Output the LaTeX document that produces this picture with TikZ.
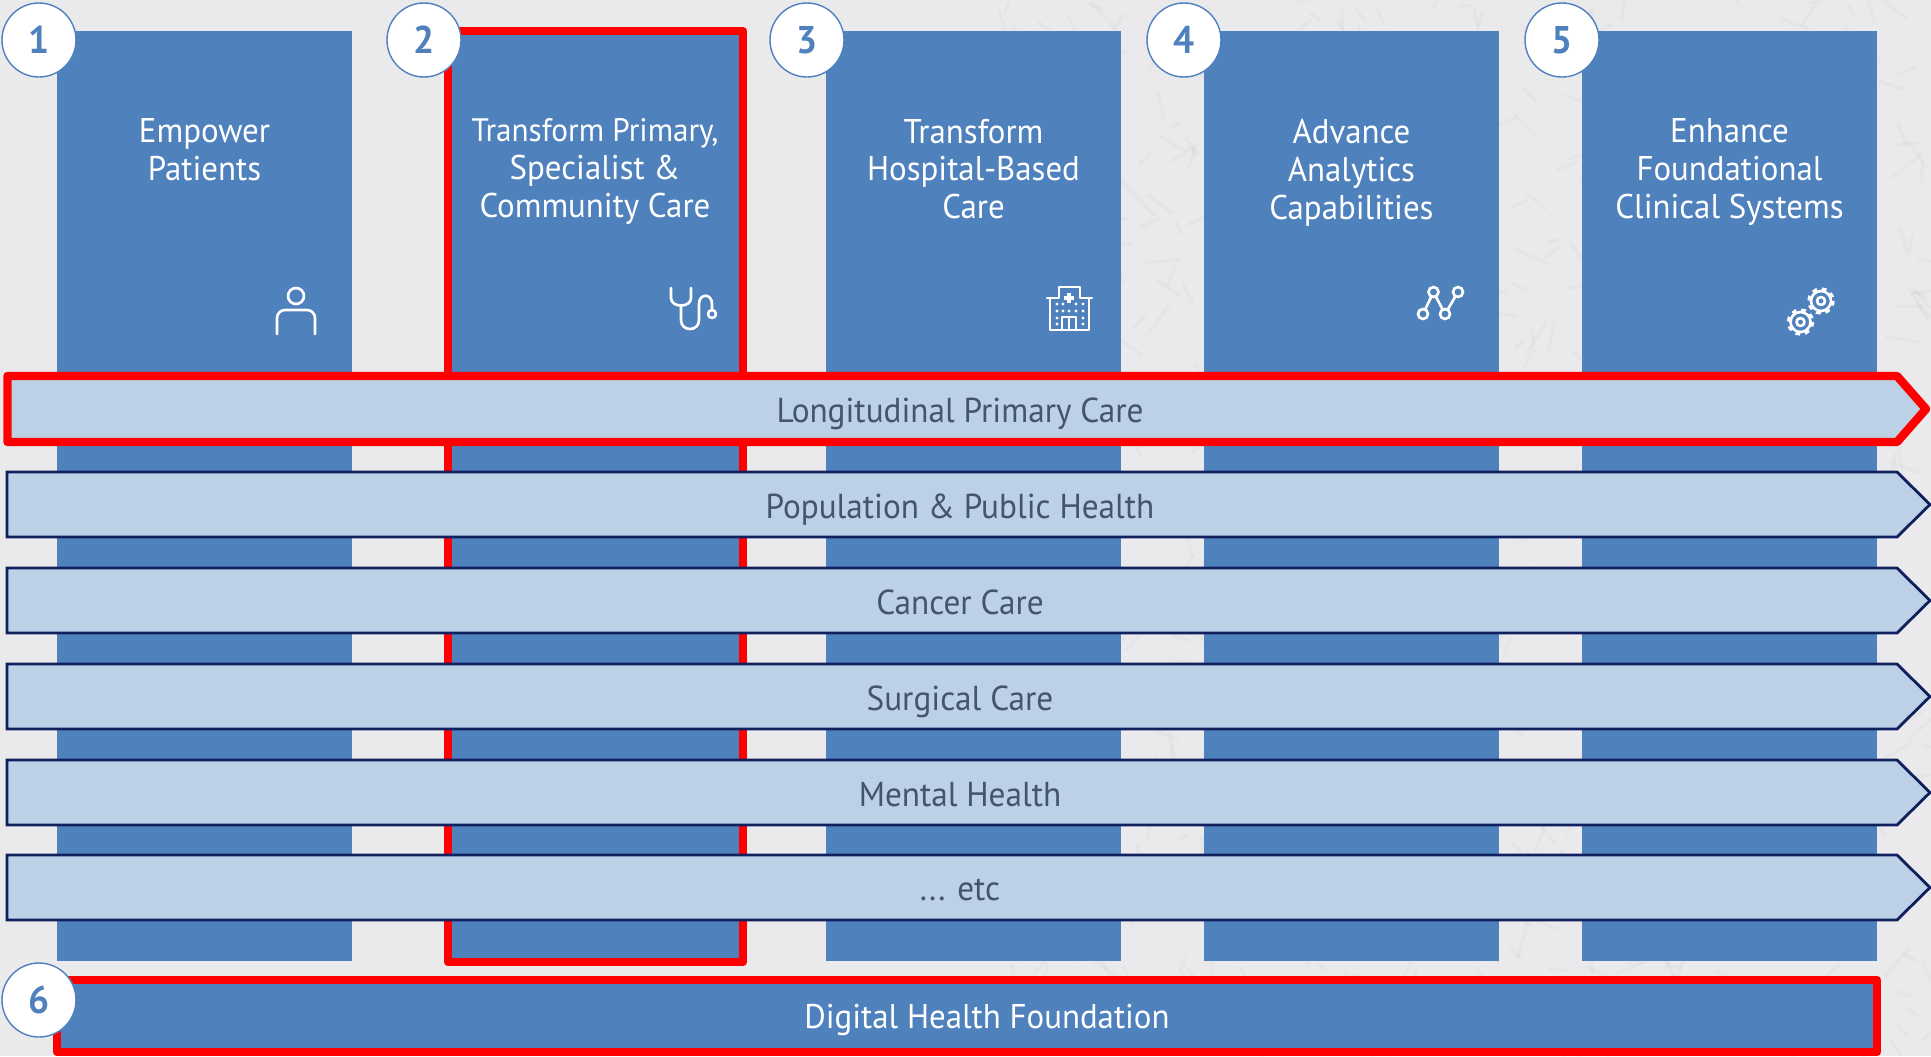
\documentclass[tikz,border=0pt]{standalone}
\usepackage{fontspec}
\setmainfont[FakeStretch=0.96]{PT Sans}
\definecolor{pagegrey}{HTML}{EAEAED}
\definecolor{colblue}{HTML}{4F81BD}
\definecolor{bandblue}{HTML}{BDD1E6}
\definecolor{bandline}{HTML}{10205F}
\definecolor{bandtext}{HTML}{44546A}
\tikzset{
    column/.style = {fill = colblue, inner sep = 0pt, minimum width = 295*0.02cm, minimum height = 930*0.02cm},
    coltitle/.style = {text = white, anchor = north, align = center, inner sep = 0pt, font = \fontsize{19.5}{21.6}\selectfont},
    band/.style = {fill = bandblue, draw = bandline, line width = 1.6pt, line join = miter},
    hotband/.style = {fill = bandblue, draw = red, line width = 4.8pt, line join = round},
    bandlabel/.style = {text = bandtext, inner sep = 0pt, anchor = base, font = \fontsize{19.7}{24}\selectfont},
    redframe/.style = {draw = red, line width = 4.8pt, line join = round},
    badge/.style = {circle, fill = white, draw = colblue, line width = 0.8pt, inner sep = 0pt, minimum size = 74*0.02cm, text = colblue, font = \fontsize{22}{24}\selectfont\bfseries},
    icon/.style = {draw = white, line width = 1.5pt, line cap = round, line join = round}
}
\begin{document}
\begin{tikzpicture}[x=0.02cm, y=-0.02cm]
    \useasboundingbox (0,0) rectangle (1931,1056);
    \fill[pagegrey] (0,0) rectangle (1931,1056);
    % faint marbling of the page
    \pgfmathsetseed{11}
    \foreach \i in {1,...,900} {
        \pgfmathsetmacro{\px}{1000+931*rnd}
        \pgfmathsetmacro{\py}{1056*rnd}
        \pgfmathsetmacro{\pa}{360*rnd}
        \pgfmathsetmacro{\pl}{8+30*rnd}
        \draw[black, opacity = 0.018, line width = 2pt, line cap = round] (\px,\py) -- ++(\pa:\pl);
    }

    \node[column] (col1) at (204.5,496) {};
    \node[column] (col2) at (596.5,496) {};
    \node[column] (col3) at (973.5,496) {};
    \node[column] (col4) at (1351.5,496) {};
    \node[column] (col5) at (1729.5,496) {};
    \draw[redframe] (448,31) rectangle (743,962);

    \node[coltitle] (title1) at (204.5,118.5) {Empower\\Patients};
    \node[coltitle] (title2) at (595,118.5) {\fontsize{18.5}{21.6}\selectfont Transform Primary,\\Specialist \&\\Community Care};
    \node[coltitle] (title3) at (973.5,118.5) {Transform\\Hospital-Based\\Care};
    \node[coltitle] (title4) at (1351.5,118.5) {Advance\\Analytics\\Capabilities};
    \node[coltitle] (title5) at (1729.5,118.5) {Enhance\\Foundational\\Clinical Systems};

    % person
    \draw[icon] (296,296) circle (8);
    \draw[icon] (277,334) -- (277,318) arc (180:270:8) -- (307,310) arc (270:360:8) -- (315,334);
    % stethoscope
    \draw[icon] (671,288) -- (671,298) .. controls (671,308) and (691,308) .. (691,298) -- (691,288);
    \draw[icon] (681,306) -- (681,320) .. controls (681,332) and (699,332) .. (699,320) -- (699,304) .. controls (699,293) and (712,293) .. (712,304) -- (712,310);
    \draw[icon] (712,314) circle (4);
    % hospital
    \draw[icon] (1050,298) -- (1050,330) -- (1089,330) -- (1089,298);
    \draw[icon] (1047,298) -- (1059,298) -- (1059,287) -- (1080,287) -- (1080,298) -- (1092,298);
    \draw[white, line width = 2.2pt] (1069,293) -- (1069,303) (1064,298) -- (1074,298);
    \draw[icon] (1062,330) -- (1062,317) -- (1076,317) -- (1076,330) (1069,317) -- (1069,330);
    \fill[white] (1057,304) circle (1.7) (1063,304) circle (1.7) (1076,304) circle (1.7) (1083,304) circle (1.7);
    \fill[white] (1057,311) circle (1.7) (1063,311) circle (1.7) (1069,311) circle (1.7) (1076,311) circle (1.7) (1083,311) circle (1.7);
    \fill[white] (1057,318) circle (1.7) (1083,318) circle (1.7) (1057,324) circle (1.7) (1083,324) circle (1.7);
    % graph
    \draw[icon] (1423,314) -- (1433.5,292) -- (1445,314) -- (1458,292);
    \fill[colblue, draw = white, line width = 1.5pt] (1423,314) circle (5);
    \fill[colblue, draw = white, line width = 1.5pt] (1433.5,292) circle (5);
    \fill[colblue, draw = white, line width = 1.5pt] (1445,314) circle (5);
    \fill[colblue, draw = white, line width = 1.5pt] (1458,292) circle (5);
    % gears
    \draw[icon] (1821,301) circle (10) (1821,301) circle (4);
    \draw[white, line width = 2pt, dash pattern = on 2.6pt off 2.8pt] (1821,301) circle (12);
    \draw[icon] (1800.5,322) circle (10) (1800.5,322) circle (4);
    \draw[white, line width = 2pt, dash pattern = on 2.6pt off 2.8pt] (1800.5,322) circle (12);

    \draw[hotband] (7.5,376) -- (1897,376) -- (1926,409) -- (1897,442) -- (7.5,442) -- cycle;
    \draw[band] (7,472) -- (1897,472) -- (1930,504.5) -- (1897,537) -- (7,537) -- cycle;
    \draw[band] (7,568) -- (1897,568) -- (1930,600.5) -- (1897,633) -- (7,633) -- cycle;
    \draw[band] (7,664) -- (1897,664) -- (1930,696.5) -- (1897,729) -- (7,729) -- cycle;
    \draw[band] (7,760) -- (1897,760) -- (1930,792.5) -- (1897,825) -- (7,825) -- cycle;
    \draw[band] (7,855) -- (1897,855) -- (1930,887.5) -- (1897,920) -- (7,920) -- cycle;
    \node[bandlabel] (longitudinal) at (960,422) {Longitudinal Primary Care};
    \node[bandlabel] (population) at (960,518) {Population \& Public Health};
    \node[bandlabel] (cancer) at (960,614) {Cancer Care};
    \node[bandlabel] (surgical) at (960,710) {Surgical Care};
    \node[bandlabel] (mental) at (960,806) {Mental Health};
    \node[bandlabel] (etc) at (960,900.5) {... etc};

    \draw[fill = colblue, redframe] (57,980) rectangle (1877,1052);
    \node[coltitle, anchor = base] (digital) at (987,1028) {Digital Health Foundation};

    \node[badge] (num1) at (39,40) {1};
    \node[badge] (num2) at (424,40) {2};
    \node[badge] (num3) at (807,40) {3};
    \node[badge] (num4) at (1184,40) {4};
    \node[badge] (num5) at (1562,40) {5};
    \node[badge] (num6) at (39,1000) {6};
\end{tikzpicture}
\end{document}
